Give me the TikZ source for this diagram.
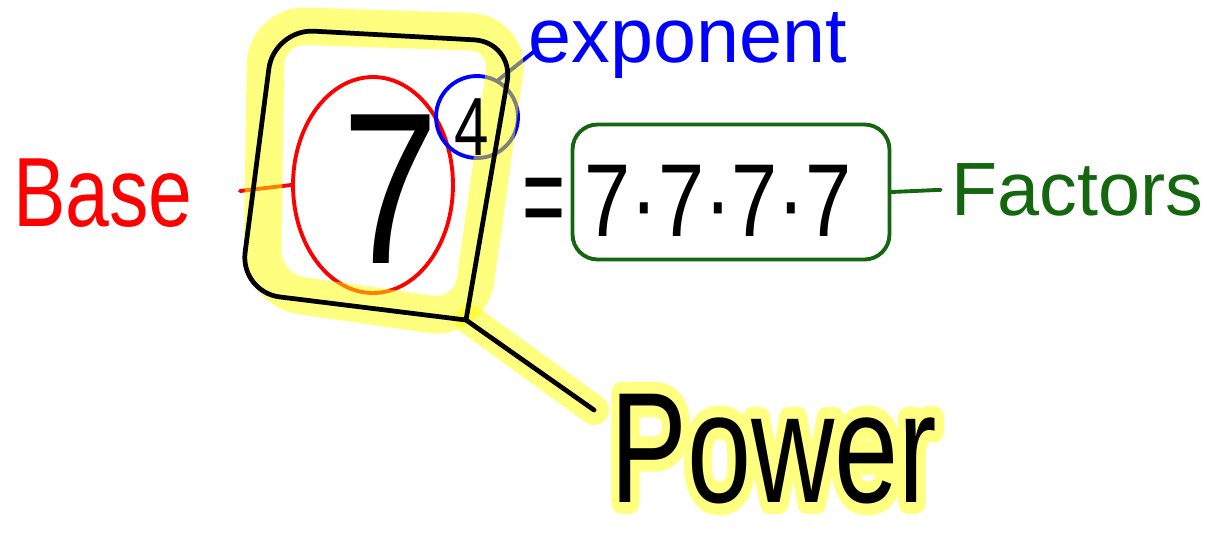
\documentclass[tikz,border=0pt]{standalone}
\usepackage{fontspec}
\setmainfont{Liberation Sans}
\newfontfamily\hlfont[FakeBold=15]{Liberation Sans}
\usetikzlibrary{shapes.geometric}
\definecolor{hl}{rgb}{1,1,0}
\definecolor{hlsolid}{rgb}{1,1,0.5}
\definecolor{rd}{rgb}{1,0,0}
\definecolor{bl}{rgb}{0,0,1}
\definecolor{gr}{rgb}{0.08,0.4,0.06}
\begin{document}
\begin{tikzpicture}[x=0.02cm,y=-0.02cm,
  ink/.style={line width=2.7pt, line cap=round, line join=round},
  thinink/.style={line width=2.2pt, line cap=round, line join=round},
  hlband/.style={draw=hl, opacity=0.5, line width=0.75cm, line cap=round, line join=round},
  lbl/.style={inner sep=0pt, anchor=base},
]
\useasboundingbox (0,0) rectangle (1211,539);

% ---- coloured marks (under the highlight) ----
\node[lbl, text=rd, font=\fontsize{56}{60}\selectfont, xscale=0.8] (base) at (103,226) {Base};
\node[draw=rd, thinink, ellipse, minimum width=3.2cm, minimum height=4.32cm] (bell) at (373,185) {};
\coordinate (rl) at (240,191);
\draw[rd, thinink] (rl) -- (bell.west);

\node[lbl, text=bl, font=\fontsize{44}{48}\selectfont] (exp) at (688,62) {exponent};
\node[draw=bl, thinink, circle, minimum size=1.64cm] (ecirc) at (477,117) {};
\coordinate (expin) at (536,50);
\draw[bl, thinink] (ecirc.60) -- (expin);

% ---- box corners and power connector end ----
\coordinate (b1) at (274,29);
\coordinate (b2) at (514,42);
\coordinate (b3) at (466,320);
\coordinate (b4) at (240,292);
\coordinate (pw) at (594,410);
\coordinate (h1) at (266,25);
\coordinate (h2) at (510,33);
\coordinate (h3) at (470,320);
\coordinate (h4) at (262,290);

% ---- yellow highlighter ----
\draw[hlband, rounded corners=0.8cm] (h1) -- (h2) -- (h3) -- (h4) -- cycle;
\draw[hlband, line width=0.6cm] (h3) -- (pw);

% ---- black marks ----
\draw[ink, rounded corners=0.8cm] (b3) -- (b2) -- (b1) -- (b4) -- (b3);
\draw[ink] (b3) -- (pw);
\node[lbl, font=\fontsize{123}{125}\selectfont, xscale=0.8] (seven) at (391,263) {7};
\node[lbl, font=\fontsize{47}{50}\selectfont, xscale=0.75] (four) at (472,155) {4};

\node[font=\fontsize{70}{70}\selectfont, xscale=0.6, inner sep=0pt] (eq) at (544,208) {=};
\node[draw=gr, thinink, rounded corners=0.5cm, minimum width=6.34cm, minimum height=2.7cm] (fbox) at (731,192) {};
\node[lbl, font=\fontsize{59}{62}\selectfont, xscale=0.8] (prod) at (718,236) {7·7·7·7};
\node[lbl, text=gr, font=\fontsize{43}{46}\selectfont] (fac) at (1077,215) {Factors};
\draw[gr, thinink, shorten >=0.2cm] (fbox.east) -- (fac.west);

% ---- Power with highlight ----
\node[lbl, text=hlsolid, font=\hlfont\fontsize{80}{84}\selectfont, xscale=0.82, yscale=1.12] (powerhl) at (774,502) {\special{pdf:literal direct 1 j 1 J}Power};
\node[lbl, font=\fontsize{80}{84}\selectfont, xscale=0.82, yscale=1.12] (power) at (774,502) {Power};
\end{tikzpicture}
\end{document}
